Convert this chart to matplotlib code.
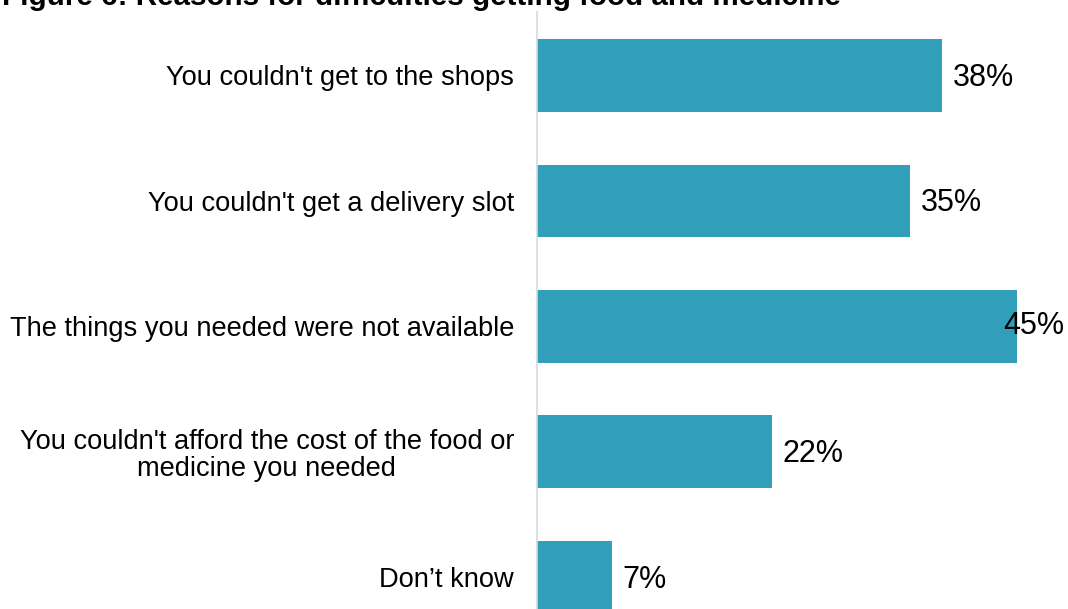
import matplotlib.pyplot as plt

plt.rcParams['font.family'] = ['Liberation Sans', 'DejaVu Sans']

categories = [
    "You couldn't get to the shops",
    "You couldn't get a delivery slot",
    "The things you needed were not available",
    "You couldn't afford the cost of the food or\nmedicine you needed",
    "Don\u2019t know",
]
values = [38, 35, 45, 22, 7]
title = "Figure 6: Reasons for difficulties getting food and medicine"

fig = plt.figure(figsize=(10.68, 6.09), dpi=100)
ax = fig.add_axes([537 / 1068, 0, 531 / 1068, 597 / 609])

ypos = list(range(len(categories)))
ax.barh(ypos, values, height=0.58, color='#329fba')
ax.set_xlim(0, 49.8)
ax.set_ylim(4.254, -0.506)

for y, v in zip(ypos, values):
    lx = v + 1.0
    if lx + 5.9 > 49.8:
        # no room past the bar end, pin the label to the right edge
        ax.text(49.5, y, f"{v}%", va='center', ha='right', fontsize=22)
    else:
        ax.text(lx, y + 0.02, f"{v}%", va='center', ha='left', fontsize=22)

ax.set_yticks(ypos)
ax.set_yticklabels(categories, fontsize=19.6, multialignment='center', linespacing=1.05)
ax.tick_params(axis='y', length=0, pad=16.5)
ax.set_xticks([])

for s in ['top', 'right', 'bottom']:
    ax.spines[s].set_visible(False)
ax.spines['left'].set_color('#d9d9d9')
ax.spines['left'].set_linewidth(1.2)

fig.text(2 / 1068, 1 - 5 / 609, title, fontsize=21.3, fontweight='bold', va='baseline', ha='left')

fig.savefig('out.png', dpi=100)
